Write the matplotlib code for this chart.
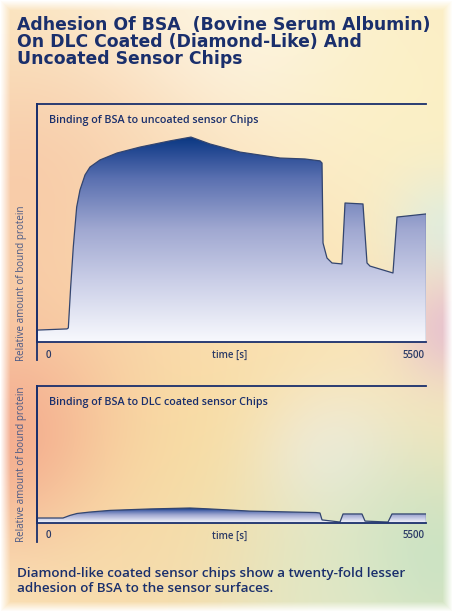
import numpy as np
import matplotlib.pyplot as plt
from matplotlib.colors import LinearSegmentedColormap, to_rgb
from matplotlib.patches import PathPatch
from matplotlib.path import Path

# uncoated chip sensorgram (time in s, relative bound protein)
t_uncoated = [0, 424, 443, 476, 513, 561, 608, 679, 749, 891, 1131, 1456, 1880, 2177,
              2446, 2870, 3436, 3789, 4001, 4030, 4044, 4100, 4171, 4312, 4355, 4609,
              4666, 4708, 5033, 5090, 5500]
v_uncoated = [5.0, 5.5, 5.9, 23.1, 39.9, 56.7, 63.9, 70.2, 73.5, 76.5, 79.4, 81.9, 84.5, 86.1,
              83.2, 79.8, 77.3, 76.9, 76.1, 75.2, 41.6, 35.3, 33.2, 32.8, 58.4, 58.0,
              33.2, 31.9, 29.0, 52.5, 53.8]

# DLC coated chip sensorgram
t_coated = [0, 368, 467, 566, 749, 1032, 1598, 2163, 2446, 3012, 3945, 4001, 4030, 4284,
            4327, 4595, 4638, 4963, 5019, 5500]
v_coated = [2.1, 2.1, 3.2, 4.0, 4.6, 5.3, 5.9, 6.3, 5.9, 5.0, 4.4, 4.2, 1.3, 0.4,
            3.8, 3.8, 0.8, 0.4, 3.8, 3.8]

title_lines = ["Adhesion Of BSA  (Bovine Serum Albumin)",
               "On DLC Coated (Diamond-Like) And",
               "Uncoated Sensor Chips"]
sub_top = "Binding of BSA to uncoated sensor Chips"
sub_bot = "Binding of BSA to DLC coated sensor Chips"
ylab = "Relative amount of bound protein"
caption = ["Diamond-like coated sensor chips show a twenty-fold lesser",
           "adhesion of BSA to the sensor surfaces."]

W, H = 453, 612
navy = '#1a2f6c'
fontname = 'Open Sans'

fig = plt.figure(figsize=(W / 100, H / 100), dpi=100)
renderer = fig.canvas.get_renderer()


def fit_width(txt, px):
    # scale the font so the text spans about px pixels
    w = txt.get_window_extent(renderer).width
    txt.set_fontsize(txt.get_fontsize() * px / w)


# pastel background
yy, xx = np.mgrid[0:H, 0:W]
bg = np.ones((H, W, 3)) * np.array(to_rgb('#fbe9bf'))
blobs = [(225, 30, 120, '#fdf8e8', 0.9),
         (30, 200, 110, '#f7c4a6', 0.8),
         (100, 300, 120, '#f8c9a0', 0.5),
         (20, 440, 80, '#f29a86', 0.8),
         (420, 100, 90, '#fbf3c6', 0.6),
         (445, 230, 40, '#d7efe9', 0.7),
         (450, 330, 40, '#e3b9d6', 0.8),
         (230, 470, 120, '#f9d98f', 0.6),
         (200, 250, 100, '#fbe2b8', 0.4),
         (330, 460, 55, '#f3f2f6', 0.6),
         (430, 560, 80, '#bfe0c2', 0.8),
         (300, 600, 90, '#d8ebd0', 0.6),
         (140, 600, 90, '#f7d6a6', 0.5)]
for bx, by, r, c, s in blobs:
    w = s * np.exp(-((xx - bx) ** 2 + (yy - by) ** 2) / (2 * r ** 2))
    bg = bg * (1 - w[..., None]) + np.array(to_rgb(c)) * w[..., None]
d = np.minimum(np.minimum(xx, W - 1 - xx), np.minimum(yy, H - 1 - yy))
fade = np.clip(d / 10.0, 0, 1)[..., None]
bg = bg * fade + (1 - fade)
bax = fig.add_axes([0, 0, 1, 1], zorder=0)
bax.imshow(bg, aspect='auto')
bax.axis('off')

cmap = LinearSegmentedColormap.from_list('fill', [(0.0, '#f8f9fd'), (0.3, '#cacee7'),
                                                  (0.55, '#a0a8d1'), (0.8, '#5a70b0'),
                                                  (0.92, '#2a4d96'), (1.0, '#0a3882')])


def panel(rect, t, v, ymax, subtitle, sub_y, ext):
    ax = fig.add_axes(rect, zorder=1)
    ax.set_facecolor('none')
    verts = [(t[0], 0)] + list(zip(t, v)) + [(t[-1], 0), (t[0], 0)]
    patch = PathPatch(Path(verts), facecolor='none', edgecolor='none')
    ax.add_patch(patch)
    grad = np.linspace(0, 1, 256).reshape(-1, 1)
    im = ax.imshow(grad, cmap=cmap, origin='lower', aspect='auto',
                   extent=[t[0], t[-1], 0, max(v)])
    im.set_clip_path(patch)
    ax.plot(t, v, color='#33456f', lw=0.9)
    ax.plot([t[-1], t[-1]], [v[-1], 0], color='#33456f', lw=0.9)
    ax.set_xlim(0, 5500)
    ax.set_ylim(0, ymax)
    ax.set_xticks([])
    ax.set_yticks([])
    ax.spines['right'].set_visible(False)
    for s in ['top', 'bottom', 'left']:
        ax.spines[s].set_color(navy)
        ax.spines[s].set_linewidth(1.3)
    ax.axvline(0, ymin=-ext, ymax=1, color=navy, lw=1.3, clip_on=False)
    st = ax.text(0.031, sub_y, subtitle, transform=ax.transAxes, fontsize=7.5,
                 fontweight='semibold', color=navy, fontname=fontname, va='center')
    return ax, st


ax1, st1 = panel([37 / W, 1 - 342 / H, 389 / W, 238 / H], t_uncoated, v_uncoated, 100,
                 sub_top, (342 - 120) / 238, 18 / 238)
ax2, st2 = panel([37 / W, 1 - 523 / H, 389 / W, 137 / H], t_coated, v_coated, 137 / 2.38,
                 sub_bot, (523 - 402) / 137, 19 / 137)
fit_width(st1, 211)
st2.set_fontsize(st1.get_fontsize())

for ax, bot, h in [(ax1, 342, 238), (ax2, 523, 137)]:
    ly = -13 / h
    kw = dict(transform=ax.transAxes, fontsize=7, color='#2b3a66', fontname=fontname,
              fontweight='semibold', va='center')
    ax.text(0.028, ly, "0", ha='center', **kw)
    ax.text(0.496, ly, "time [s]", ha='center', **kw)
    ax.text(0.997, ly, "5500", ha='right', **kw)
    yl = ax.text(-0.041, -19 / h, ylab, transform=ax.transAxes, rotation=90, fontsize=7.5,
                 color='#4b5a86', fontname=fontname, ha='center', va='bottom')
    yl_h = yl.get_window_extent(renderer).height
    yl.set_fontsize(yl.get_fontsize() * 157 / yl_h)

t0 = None
for i, line in enumerate(title_lines):
    tt = fig.text(17 / W, 1 - [30, 47, 64][i] / H, line, fontsize=12.5, fontweight='bold',
                  color=navy, fontname='DejaVu Sans', va='baseline')
    if i == 0:
        fit_width(tt, 413)
        t0 = tt.get_fontsize()
    else:
        tt.set_fontsize(t0)

for i, line in enumerate(caption):
    ct = fig.text(17 / W, 1 - [577, 592][i] / H, line, fontsize=9.6, fontweight='semibold',
                  color=navy, fontname=fontname, va='baseline')
    if i == 0:
        fit_width(ct, 390)
        c0 = ct.get_fontsize()
    else:
        ct.set_fontsize(c0)

fig.savefig('out.png', dpi=100)
